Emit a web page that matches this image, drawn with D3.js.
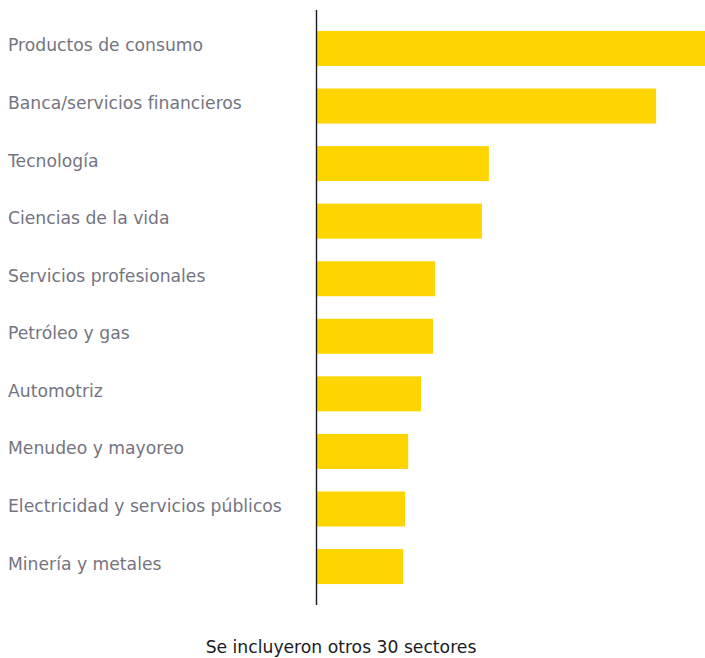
<!DOCTYPE html>
<html lang="es">
<head>
<meta charset="utf-8">
<script src="https://cdn.jsdelivr.net/npm/d3@7"></script>
<style>
  html, body { margin: 0; padding: 0; background: #fff; }
  svg { display: block; }
</style>
</head>
<body>
<svg id="chart" width="705" height="658"></svg>
<script>
// Sectors ranked by relative weight (index, top sector = 100)
const sectors = [
  "Productos de consumo",
  "Banca/servicios financieros",
  "Tecnología",
  "Ciencias de la vida",
  "Servicios profesionales",
  "Petróleo y gas",
  "Automotriz",
  "Menudeo y mayoreo",
  "Electricidad y servicios públicos",
  "Minería y metales"
];
const values = [100, 87.4, 44.3, 42.5, 30.4, 29.9, 26.8, 23.5, 22.7, 22.2];
const footnote = "Se incluyeron otros 30 sectores";

const W = 705, H = 658;
const axisX = 317;
const FONT = "'DejaVu Sans', 'Liberation Sans', sans-serif";
const svg = d3.select("#chart");

const data = sectors.map((name, i) => ({ name, value: values[i] }));

const x = d3.scaleLinear().domain([0, 100]).range([axisX, W]);
const y = d3.scaleBand()
  .domain(sectors)
  .range([10, 605])
  .paddingInner(0.392)
  .paddingOuter(0.364);

// Bars
svg.append("g")
  .selectAll("rect")
  .data(data)
  .join("rect")
  .attr("x", x(0))
  .attr("y", d => y(d.name))
  .attr("width", d => x(d.value) - x(0))
  .attr("height", y.bandwidth())
  .attr("fill", "#FFD500");

// Category labels
svg.append("g")
  .selectAll("text")
  .data(data)
  .join("text")
  .attr("x", 8)
  .attr("y", d => y(d.name) + y.bandwidth() / 2 + 3)
  .attr("fill", "#747480")
  .attr("font-family", FONT)
  .attr("font-size", 17.2)
  .text(d => d.name);

// Vertical baseline
svg.append("line")
  .attr("x1", axisX - 0.5).attr("x2", axisX - 0.5)
  .attr("y1", y.range()[0]).attr("y2", y.range()[1])
  .attr("stroke", "#1a1a24")
  .attr("stroke-width", 1.4);

// Footnote
svg.append("text")
  .attr("x", 341)
  .attr("y", 653)
  .attr("text-anchor", "middle")
  .attr("fill", "#1a1a24")
  .attr("font-family", FONT)
  .attr("font-size", 17.2)
  .text(footnote);
</script>
</body>
</html>
